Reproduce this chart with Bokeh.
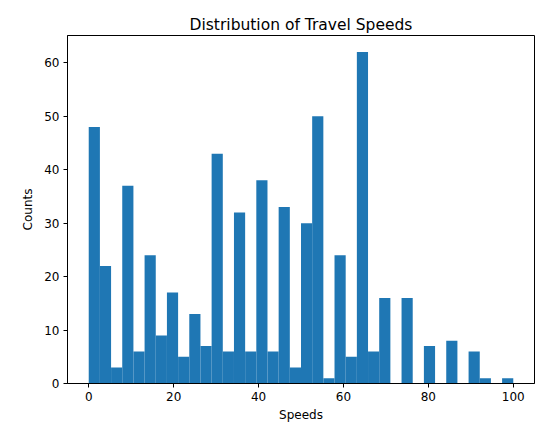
import numpy as np
from bokeh.plotting import figure
from bokeh.models import Range1d, FixedTicker, ColumnDataSource
from bokeh.embed import file_html
from bokeh.resources import INLINE

# Histogram data
speed_min = 0
speed_max = 100
num_bins = 38
counts = [48, 22, 3, 37, 6, 24, 9, 17, 5, 13,
          7, 43, 6, 32, 6, 38, 6, 33, 3, 30,
          50, 1, 24, 5, 62, 6, 16, 0, 16, 0,
          7, 0, 8, 0, 6, 1, 0, 1]
x_ticks = [0, 20, 40, 60, 80, 100]
y_ticks = [0, 10, 20, 30, 40, 50, 60]

edges = np.linspace(speed_min, speed_max, num_bins + 1)
src = ColumnDataSource(dict(left=edges[:-1], right=edges[1:],
                            top=counts, bottom=[0] * len(counts)))

span = speed_max - speed_min
p = figure(width=544, height=428, output_backend="svg", toolbar_location=None,
           title="Distribution of Travel Speeds",
           x_range=Range1d(speed_min - 0.05 * span, speed_max + 0.05 * span),
           y_range=Range1d(0, max(counts) * 1.05),
           min_border_left=67, min_border_right=10,
           min_border_top=35, min_border_bottom=45)

p.quad(left="left", right="right", top="top", bottom="bottom", source=src,
       fill_color="#1f77b4", line_color=None)

p.background_fill_color = "white"
p.border_fill_color = "white"
p.outline_line_color = "black"
p.outline_line_width = 1
p.outline_line_alpha = 1
p.xgrid.visible = False
p.ygrid.visible = False

p.title.align = "center"
p.title.text_font = "DejaVu Sans"
p.title.text_font_size = "15.5px"
p.title.text_font_style = "normal"
p.title.text_color = "black"
p.title.standoff = 3

p.xaxis.ticker = FixedTicker(ticks=x_ticks)
p.yaxis.ticker = FixedTicker(ticks=y_ticks)
p.xaxis.axis_label = "Speeds"
p.yaxis.axis_label = "Counts"
for ax in (p.xaxis, p.yaxis):
    ax.axis_line_color = "black"
    ax.major_tick_line_color = "black"
    ax.minor_tick_line_color = None
    ax.major_tick_in = 0
    ax.major_tick_out = 4
    ax.major_label_standoff = 4
    ax.major_label_text_font = "DejaVu Sans"
    ax.major_label_text_font_size = "12px"
    ax.major_label_text_color = "black"
    ax.axis_label_text_font = "DejaVu Sans"
    ax.axis_label_text_font_size = "12px"
    ax.axis_label_text_font_style = "normal"
    ax.axis_label_text_color = "black"
p.xaxis.axis_label_standoff = 4
p.yaxis.axis_label_standoff = 6

open("out.html", "w").write(file_html(p, INLINE))
